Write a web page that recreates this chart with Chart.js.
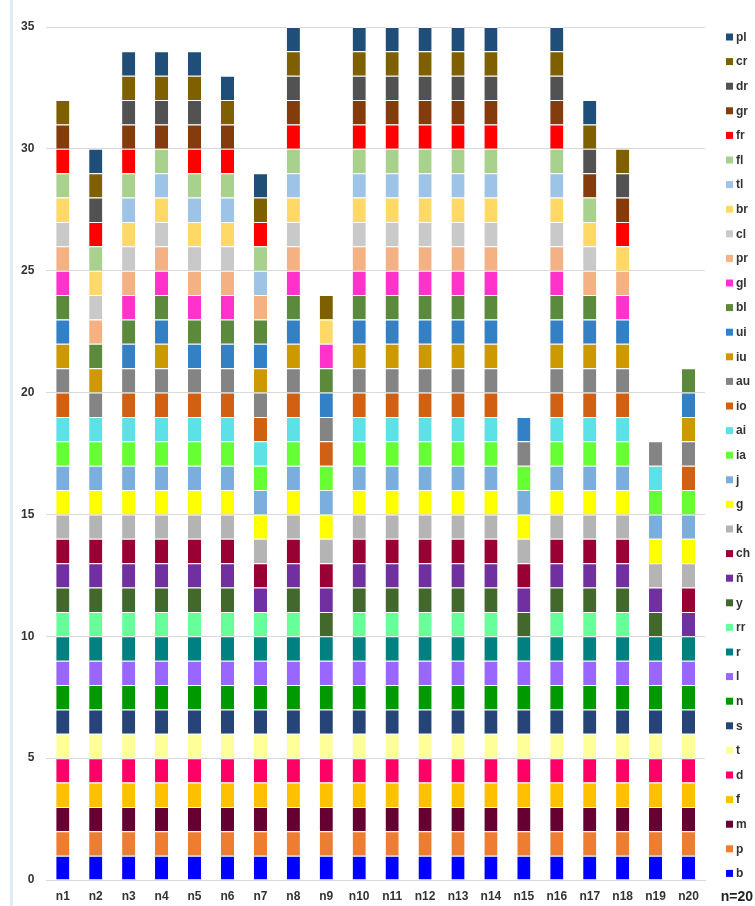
<!DOCTYPE html>
<html>
<head>
<meta charset="utf-8">
<script src="https://cdn.jsdelivr.net/npm/chart.js@4/dist/chart.umd.min.js"></script>
<style>
  html, body { margin: 0; padding: 0; background: #ffffff; }
  #wrap { position: relative; width: 755px; height: 906px; }
  #strip { position: absolute; left: 10px; top: 0; width: 3px; height: 906px; background: #DDEBF7; }
  canvas { position: absolute; left: 0; top: 0; }
</style>
</head>
<body>
<div id="wrap">
  <div id="strip"></div>
  <canvas id="c" width="755" height="906"></canvas>
</div>
<script>
// Categories
const categories = ['n1','n2','n3','n4','n5','n6','n7','n8','n9','n10','n11','n12','n13','n14','n15','n16','n17','n18','n19','n20'];
// Y-axis ticks
const yTicks = [0, 5, 10, 15, 20, 25, 30, 35];
const sampleNote = 'n=20';

// Series (bottom of stack first)
const seriesNames  = ['b','p','m','f','d','t','s','n','l','r','rr','y','ñ','ch','k','g','j','ia','ai','io','au','iu','ui','bl','gl','pr','cl','br','tl','fl','fr','gr','dr','cr','pl'];
const seriesColors = ['#0000FF','#ED7D31','#660033','#FFC000','#FF0066','#FFFF99','#264478','#009900','#9966FF','#008080','#66FF99','#43682B','#7030A0','#990033','#B4B4B4','#FFFF00','#7BAEDC','#66FF33','#5CE1E6','#D26012','#848484','#CC9900','#3480C4','#5B8A3C','#FF33CC','#F4B183','#C9C9C9','#FFD966','#9DC3E6','#A9D18E','#FF0000','#843C0C','#525252','#7F6000','#1F4E79'];

// Values per series, one entry per category n1..n20
const v_b  = [1,1,1,1,1,1,1,1,1,1,1,1,1,1,1,1,1,1,1,1];
const v_p  = [1,1,1,1,1,1,1,1,1,1,1,1,1,1,1,1,1,1,1,1];
const v_m  = [1,1,1,1,1,1,1,1,1,1,1,1,1,1,1,1,1,1,1,1];
const v_f  = [1,1,1,1,1,1,1,1,1,1,1,1,1,1,1,1,1,1,1,1];
const v_d  = [1,1,1,1,1,1,1,1,1,1,1,1,1,1,1,1,1,1,1,1];
const v_t  = [1,1,1,1,1,1,1,1,1,1,1,1,1,1,1,1,1,1,1,1];
const v_s  = [1,1,1,1,1,1,1,1,1,1,1,1,1,1,1,1,1,1,1,1];
const v_n  = [1,1,1,1,1,1,1,1,1,1,1,1,1,1,1,1,1,1,1,1];
const v_l  = [1,1,1,1,1,1,1,1,1,1,1,1,1,1,1,1,1,1,1,1];
const v_r  = [1,1,1,1,1,1,1,1,1,1,1,1,1,1,1,1,1,1,1,1];
const v_rr = [1,1,1,1,1,1,1,1,0,1,1,1,1,1,0,1,1,1,0,0];
const v_y  = [1,1,1,1,1,1,0,1,1,1,1,1,1,1,1,1,1,1,1,0];
const v_nn = [1,1,1,1,1,1,1,1,1,1,1,1,1,1,1,1,1,1,1,1];
const v_ch = [1,1,1,1,1,1,1,1,1,1,1,1,1,1,1,1,1,1,0,1];
const v_k  = [1,1,1,1,1,1,1,1,1,1,1,1,1,1,1,1,1,1,1,1];
const v_g  = [1,1,1,1,1,1,1,1,1,1,1,1,1,1,1,1,1,1,1,1];
const v_j  = [1,1,1,1,1,1,1,1,1,1,1,1,1,1,1,1,1,1,1,1];
const v_ia = [1,1,1,1,1,1,1,1,1,1,1,1,1,1,1,1,1,1,1,1];
const v_ai = [1,1,1,1,1,1,1,1,0,1,1,1,1,1,0,1,1,1,1,0];
const v_io = [1,0,1,1,1,1,1,1,1,1,1,1,1,1,0,1,1,1,0,1];
const v_au = [1,1,1,1,1,1,1,1,1,1,1,1,1,1,1,1,1,1,1,1];
const v_iu = [1,1,0,1,0,0,1,1,0,1,1,1,1,1,0,1,1,1,0,1];
const v_ui = [1,0,1,1,1,1,1,1,1,1,1,1,1,1,1,1,1,1,0,1];
const v_bl = [1,1,1,1,1,1,1,1,1,1,1,1,1,1,0,1,1,0,0,1];
const v_gl = [1,0,1,1,1,1,0,1,1,1,1,1,1,1,0,1,0,1,0,0];
const v_pr = [1,1,1,1,1,1,1,1,0,1,1,1,1,1,0,1,1,1,0,0];
const v_cl = [1,1,1,1,1,1,0,1,0,1,1,1,1,1,0,1,1,0,0,0];
const v_br = [1,1,1,1,1,1,0,1,1,1,1,1,1,1,0,1,1,1,0,0];
const v_tl = [0,0,1,1,1,1,1,1,0,1,1,1,1,1,0,1,0,0,0,0];
const v_fl = [1,1,1,1,1,1,1,1,0,1,1,1,1,1,0,1,1,0,0,0];
const v_fr = [1,1,1,0,1,1,1,1,0,1,1,1,1,1,0,1,0,1,0,0];
const v_gr = [1,0,1,1,1,1,0,1,0,1,1,1,1,1,0,1,1,1,0,0];
const v_dr = [0,1,1,1,1,0,0,1,0,1,1,1,1,1,0,1,1,1,0,0];
const v_cr = [1,1,1,1,1,1,1,1,1,1,1,1,1,1,0,1,1,1,0,0];
const v_pl = [0,1,1,1,1,1,1,1,0,1,1,1,1,1,0,1,1,0,0,0];

const seriesValues = [v_b,v_p,v_m,v_f,v_d,v_t,v_s,v_n,v_l,v_r,v_rr,v_y,v_nn,v_ch,v_k,v_g,v_j,v_ia,v_ai,v_io,v_au,v_iu,v_ui,v_bl,v_gl,v_pr,v_cl,v_br,v_tl,v_fl,v_fr,v_gr,v_dr,v_cr,v_pl];

const FONT = '"Liberation Sans", Arial, sans-serif';
const TEXT = '#333333';

const datasets = seriesNames.map((name, i) => ({
  label: name,
  data: seriesValues[i],
  backgroundColor: seriesColors[i],
  borderColor: 'rgba(255,255,255,0.9)',
  borderWidth: {top: 1, bottom: 0, left: 0, right: 0},
  barPercentage: 0.4,
  categoryPercentage: 1.0
}));

// Custom right-side legend (top = last series) and n=20 note
const sideLegend = {
  id: 'sideLegend',
  afterDraw(chart) {
    const ctx = chart.ctx;
    const ds = chart.data.datasets;
    const n = ds.length;
    const top = 37, step = 24.6, boxX = 726, textX = 736, box = 7;
    ctx.save();
    ctx.font = 'bold 12px ' + FONT;
    ctx.textBaseline = 'middle';
    ctx.textAlign = 'left';
    for (let k = 0; k < n; k++) {
      const d = ds[n - 1 - k];
      const y = top + k * step;
      ctx.fillStyle = d.backgroundColor;
      ctx.fillRect(boxX, y - box / 2, box, box);
      ctx.fillStyle = TEXT;
      ctx.fillText(d.label, textX, y + 0.5);
    }
    ctx.font = 'bold 14px ' + FONT;
    ctx.textAlign = 'right';
    ctx.fillStyle = '#222222';
    ctx.fillText(sampleNote, 753, chart.chartArea.bottom + 17);
    ctx.restore();
  }
};

new Chart(document.getElementById('c'), {
  type: 'bar',
  data: { labels: categories, datasets: datasets },
  plugins: [sideLegend],
  options: {
    responsive: false,
    animation: false,
    layout: { padding: { left: 9, right: 50, top: 27, bottom: 0 } },
    plugins: {
      legend: { display: false },
      tooltip: { enabled: false },
      title: { display: false }
    },
    scales: {
      x: {
        stacked: true,
        grid: { display: false, drawTicks: false },
        border: { display: true, color: '#D9D9D9', width: 1 },
        ticks: { color: TEXT, font: { family: FONT, size: 12, weight: 'bold' }, padding: 9, maxRotation: 0, autoSkip: false },
        afterFit(scale) { scale.height = 26; }
      },
      y: {
        stacked: true,
        min: yTicks[0],
        max: yTicks[yTicks.length - 1],
        afterBuildTicks(scale) { scale.ticks = yTicks.map(v => ({ value: v })); },
        grid: { color: '#D9D9D9', drawTicks: false, lineWidth: 1 },
        border: { display: false },
        ticks: { color: TEXT, font: { family: FONT, size: 12, weight: 'bold' }, padding: 12 }
      }
    }
  }
});
</script>
</body>
</html>
